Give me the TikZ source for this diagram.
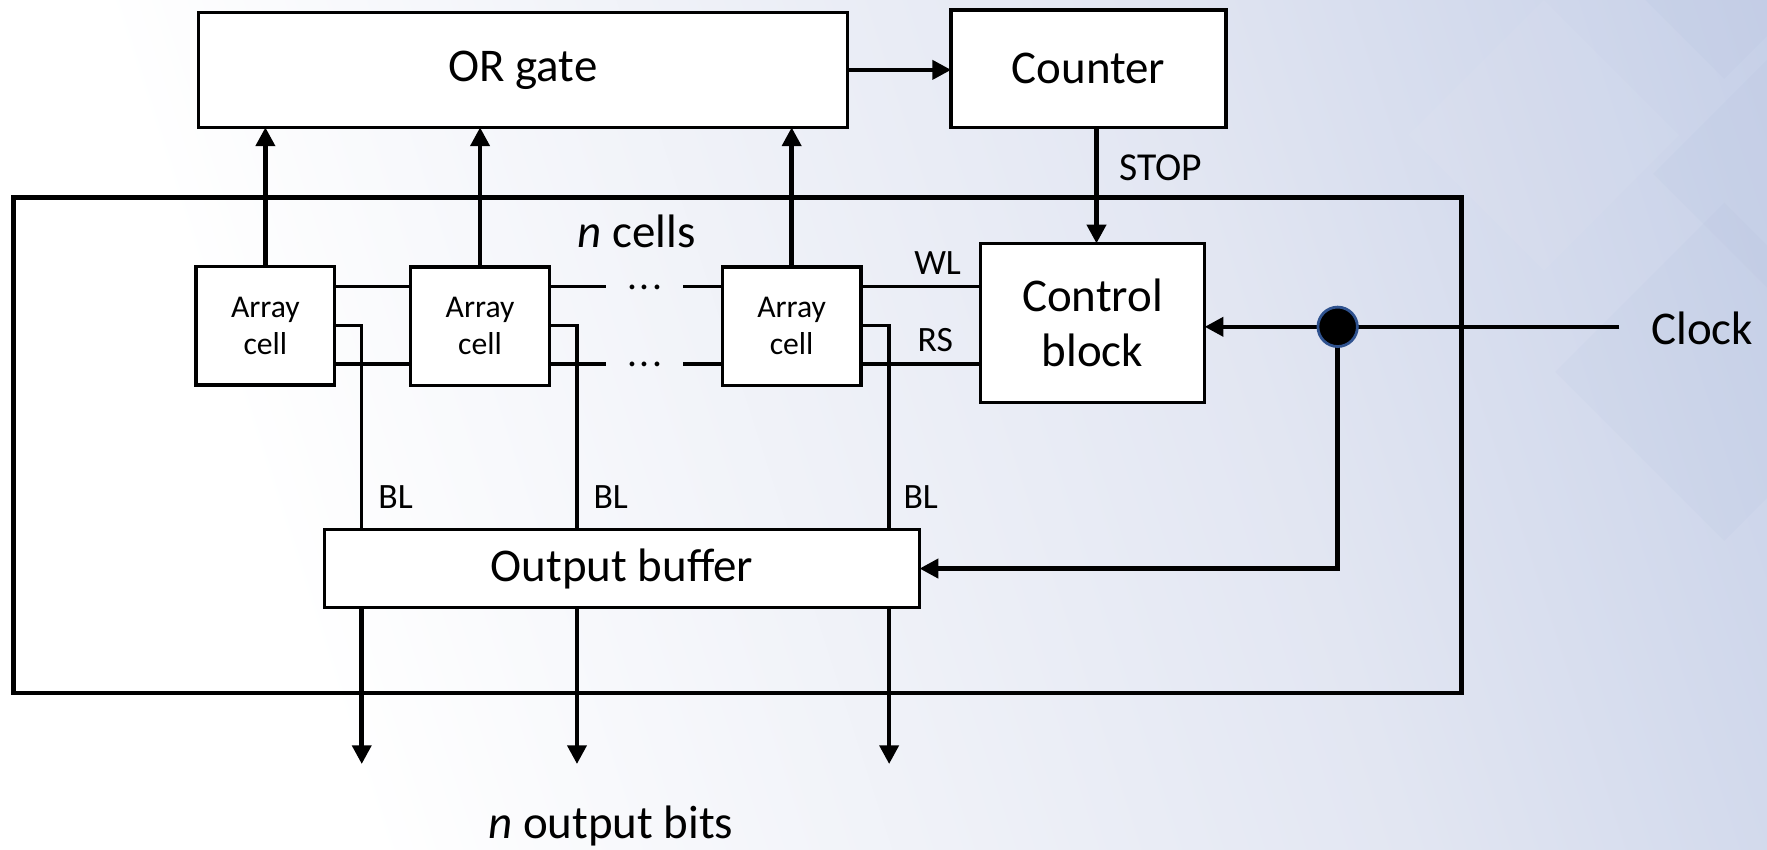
\documentclass[tikz,border=0pt]{standalone}
\usepackage{fontspec}
\setmainfont{Carlito}
\usetikzlibrary{arrows.meta,calc,shapes.geometric}
\definecolor{bgA}{RGB}{226,230,242}
\definecolor{bgB}{RGB}{172,187,222}
\definecolor{bgD}{RGB}{150,168,212}
\definecolor{dotedge}{RGB}{47,82,143}
\pgfdeclarehorizontalshading{bgshade}{100bp}{color(0bp)=(white); color(30bp)=(white); color(62bp)=(bgA); color(100bp)=(bgB)}
\newcommand{\bigtxt}{\fontsize{23.7}{27.3}\selectfont}
\newcommand{\celltxt}{\fontsize{16}{18.8}\selectfont}
\newcommand{\lbltxt}{\fontsize{18}{21}\selectfont}
\tikzset{
  box/.style={draw, line width=1.7pt, fill=white, inner sep=0pt, outer sep=0pt, align=center, font=\bigtxt},
  cellbox/.style={box, font=\celltxt, minimum width=2.46cm, minimum height=2.1cm},
  frame/.style={draw, line width=2.5pt, inner sep=0pt, outer sep=0pt},
  txt/.style={inner sep=0pt, font=\bigtxt},
  lbl/.style={inner sep=0pt, font=\lbltxt},
  dotstxt/.style={inner sep=0pt, anchor=base, minimum width=1.36cm, font=\fontsize{20}{22}\selectfont},
  wire/.style={line width=1.7pt},
  thickline/.style={line width=2.3pt},
  thickarrow/.style={line width=2.3pt, -{Triangle[length=9.5pt,width=9.5pt]}},
  bgdiamond/.style={fill=bgD, opacity=0.06},
}
\begin{document}
\begin{tikzpicture}[x=0.02cm, y=-0.02cm]
\useasboundingbox (0,0) rectangle (1568,754);
\shade[shading=bgshade, shading angle=18] (0,0) rectangle (1568,754);
\begin{scope}
\clip (0,0) rectangle (1568,754);
\fill[bgdiamond] (1467,154) -- (1590,31) -- (1713,154) -- (1590,277) -- cycle;
\fill[bgdiamond] (1420,-40) -- (1530,70) -- (1640,-40) -- (1530,-150) -- cycle;
\fill[bgdiamond] (1380,330) -- (1530,180) -- (1680,330) -- (1530,480) -- cycle;
\fill[white, opacity=0.05] (1250,120) -- (1370,0) -- (1490,120) -- (1370,240) -- cycle;
\end{scope}

% outer frame
\node[frame, minimum width=25.7cm, minimum height=8.8cm] (arr) at (654.5,395) {};

% top blocks
\node[box, minimum width=11.52cm, minimum height=2.04cm] (orgate) at (464,62) {OR gate};
\node[box, minimum width=4.88cm, minimum height=2.08cm] (counter) at (966,61) {Counter};

% cells
\node[cellbox] (cell1) at (235.5,289) {Array\\cell};
\node[cellbox] (cell2) at (426,289.5) {Array\\cell};
\node[cellbox] (cell3) at (702.5,289.5) {Array\\cell};
\node[box, minimum width=3.98cm, minimum height=2.82cm] (ctrl) at (969.5,286.5) {Control\\block};
\node[box, minimum width=10.56cm, minimum height=1.38cm] (buf) at (552,504.5) {Output buffer};

% texts
\node[txt] (ncells) at (565,205) {\textit{n} cells};
\node[txt] (nbits) at (542,733) {\textit{n} output bits};
\node[lbl, font=\fontsize{20}{24}\selectfont] (stop) at (1030,149) {STOP};
\node[lbl] (wl) at (832,233) {WL};
\node[lbl] (rs) at (830,302) {RS};
\node[lbl] (bl1) at (351,441) {BL};
\node[lbl] (bl2) at (542,441) {BL};
\node[lbl] (bl3) at (817,441) {BL};
\node[dotstxt] (dA) at (572,256.5) {.\kern1.3pt.\kern1.3pt.};
\node[dotstxt] (dB) at (572,325.5) {.\kern1.3pt.\kern1.3pt.};
\node[inner sep=0pt, anchor=west, font=\bigtxt] (clk) at (1465,291) {Clock};

% word lines / RS lines
\draw[wire] (cell1.east|-0,254) -- (cell2.west|-0,254);
\draw[wire] (cell2.east|-0,254) -- (dA.west|-0,254);
\draw[wire] (dA.east|-0,254) -- (cell3.west|-0,254);
\draw[wire] (cell3.east|-0,254) -- (ctrl.west|-0,254);
\draw[wire] (cell1.east|-0,323) -- (cell2.west|-0,323);
\draw[wire] (cell2.east|-0,323) -- (dB.west|-0,323);
\draw[wire] (dB.east|-0,323) -- (cell3.west|-0,323);
\draw[wire] (cell3.east|-0,323) -- (ctrl.west|-0,323);

% bit lines
\draw[wire] (cell1.east|-0,289) -| (buf.north-|321,0);
\draw[wire] (cell2.east|-0,289) -| (buf.north-|512,0);
\draw[wire] (cell3.east|-0,289) -| (buf.north-|789,0);

% arrows to OR gate
\draw[thickarrow] (cell1.north) -- (cell1.north|-orgate.south);
\draw[thickarrow] (cell2.north) -- (cell2.north|-orgate.south);
\draw[thickarrow] (cell3.north) -- (cell3.north|-orgate.south);
\draw[thickarrow] (orgate.east) -- (counter.west|-orgate.east);
\draw[thickarrow] (counter.south-|973,0) -- (ctrl.north-|973,0);

% outputs
\coordinate (o1) at (321,678);
\coordinate (o2) at (512,678);
\coordinate (o3) at (789,678);
\draw[thickarrow] (buf.south-|o1) -- (o1);
\draw[thickarrow] (buf.south-|o2) -- (o2);
\draw[thickarrow] (buf.south-|o3) -- (o3);

% clock
\coordinate (clkin) at (1437,290);
\coordinate (dotc) at (1187,290);
\draw[thickline] (clkin) -- (dotc);
\draw[thickarrow] (dotc) -- (ctrl.east|-dotc);
\draw[thickarrow] (dotc) |- (buf.east);
\node[circle, fill=black, draw=dotedge, line width=1.4pt, minimum size=0.7cm, inner sep=0pt] (dot) at (dotc) {};
\end{tikzpicture}
\end{document}
